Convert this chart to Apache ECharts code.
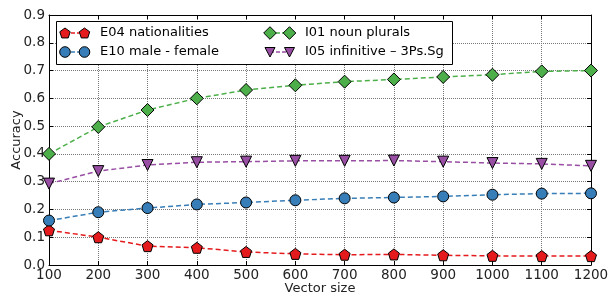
<!DOCTYPE html>
<html><head><meta charset="utf-8">
<script src="https://cdn.jsdelivr.net/npm/echarts@6/dist/echarts.min.js"></script>
<style>html,body{margin:0;padding:0;background:#fff}#c{width:608px;height:296px}</style>
</head><body><div id="c"></div>
<script>
const vectorSizes = [100,200,300,400,500,600,700,800,900,1000,1100,1200];
const e04 = [0.125,0.100,0.068,0.062,0.047,0.040,0.037,0.038,0.035,0.033,0.032,0.032];
const e10 = [0.160,0.190,0.205,0.218,0.225,0.233,0.240,0.243,0.247,0.253,0.257,0.258];
const i01 = [0.400,0.497,0.558,0.600,0.630,0.647,0.660,0.668,0.677,0.685,0.697,0.700];
const i05 = [0.293,0.338,0.360,0.370,0.372,0.375,0.375,0.376,0.372,0.367,0.364,0.357];
const seriesNames = ['E04 nationalities','E10 male - female','I01 noun plurals','I05 infinitive \u2013 3Ps.Sg'];
const seriesColors = ['#e41a1c','#377eb8','#4daf4a','#984ea3'];

const FONT = 'DejaVu Sans';
const pentagon = 'path://M0,-1 L0.951,-0.309 L0.588,0.809 L-0.588,0.809 L-0.951,-0.309 Z';
const triDown = 'path://M-1,-1 L1,-1 L0,1 Z';
const symbols = [pentagon, 'circle', 'diamond', triDown];
const sizes = [11, 11, 13, 11];
const allData = [e04, e10, i01, i05];

const chart = echarts.init(document.getElementById('c'));

function markerGraphic(kind, cx, cy, color) {
  const style = {fill: color, stroke: '#000', lineWidth: 1};
  if (kind === 1) return {type:'circle', shape:{cx, cy, r:5.3}, style};
  let pts;
  if (kind === 0) {
    const r = 5.5; pts = [];
    for (let k = 0; k < 5; k++) { const a = -Math.PI/2 + k*2*Math.PI/5; pts.push([cx + r*Math.cos(a), cy + r*Math.sin(a) + 0.5]); }
  } else if (kind === 2) {
    const h = 6.3; pts = [[cx, cy-h],[cx+h, cy],[cx, cy+h],[cx-h, cy]];
  } else {
    const h = 5; pts = [[cx-h, cy-h+0.5],[cx+h, cy-h+0.5],[cx, cy+h]];
  }
  return {type:'polygon', shape:{points: pts}, style};
}

const legendPos = [[65, 33], [65, 52], [270, 33], [270, 52]];
const graphics = [{type:'rect', shape:{x:56.5, y:21.5, width:396, height:43}, style:{fill:'#fff', stroke:'#000', lineWidth:1}, z:10}];
seriesNames.forEach((name, i) => {
  const [x, y] = legendPos[i];
  graphics.push({type:'line', shape:{x1:x, y1:y, x2:x+20, y2:y}, style:{stroke: seriesColors[i], lineWidth:1.5, lineDash:[4,2]}, z:11});
  const m1 = markerGraphic(i, x, y, seriesColors[i]); m1.z = 12; graphics.push(m1);
  const m2 = markerGraphic(i, x+19.5, y, seriesColors[i]); m2.z = 12; graphics.push(m2);
  graphics.push({type:'text', x: x+35, y: y, style:{text: name, font: '13px "' + FONT + '"', fill:'#000', textVerticalAlign:'middle'}, z:12});
});

const tickLabelStyle = {fontFamily: FONT, fontSize: 13.5, color: '#222'};

const option = {
  animation: false,
  backgroundColor: '#fff',
  grid: {left:49, right:17, top:15, bottom:31, containLabel:false, outerBoundsMode:'none'},
  xAxis: [{
    type:'value', min:100, max:1200, interval:100, position:'bottom',
    name:'Vector size', nameLocation:'middle', nameGap:17, nameMoveOverlap:false,
    nameTextStyle:{fontFamily:FONT, fontSize:13, color:'#222'},
    axisLine:{show:true, onZero:false, lineStyle:{color:'#000', width:1}},
    axisTick:{show:true, inside:true, length:4, lineStyle:{color:'#000'}},
    axisLabel:Object.assign({margin:3, formatter: v => String(v), hideOverlap:false}, tickLabelStyle),
    splitLine:{show:true, lineStyle:{color:'#777', type:'dotted', width:1}}
  },{
    type:'value', min:100, max:1200, interval:100, position:'top',
    axisLine:{show:true, onZero:false, lineStyle:{color:'#000', width:1}},
    axisTick:{show:true, inside:true, length:4, lineStyle:{color:'#000'}},
    axisLabel:{show:false}, splitLine:{show:false}
  }],
  yAxis: [{
    type:'value', min:0, max:0.9, interval:0.1, position:'left',
    name:'Accuracy', nameLocation:'middle', nameGap:26, nameRotate:90, nameMoveOverlap:false,
    nameTextStyle:{fontFamily:FONT, fontSize:13, color:'#222'},
    axisLine:{show:true, onZero:false, lineStyle:{color:'#000', width:1}},
    axisTick:{show:true, inside:true, length:4, lineStyle:{color:'#000'}},
    axisLabel:Object.assign({margin:4, formatter: v => v.toFixed(1)}, tickLabelStyle),
    splitLine:{show:true, lineStyle:{color:'#777', type:'dotted', width:1}}
  },{
    type:'value', min:0, max:0.9, interval:0.1, position:'right',
    axisLine:{show:true, onZero:false, lineStyle:{color:'#000', width:1}},
    axisTick:{show:true, inside:true, length:4, lineStyle:{color:'#000'}},
    axisLabel:{show:false}, splitLine:{show:false}
  }],
  graphic: graphics,
  series: allData.map((d, i) => ({
    name: seriesNames[i], type:'line', xAxisIndex:0, yAxisIndex:0,
    data: vectorSizes.map((x, j) => [x, d[j]]),
    symbol: symbols[i], symbolSize: sizes[i], showAllSymbol:true,
    clip:false,
    lineStyle:{color: seriesColors[i], width:1.5, type:[5,3]},
    itemStyle:{color: seriesColors[i], borderColor:'#000', borderWidth:1, opacity:1},
    z: 3 + i
  }))
};
chart.setOption(option);
</script></body></html>
